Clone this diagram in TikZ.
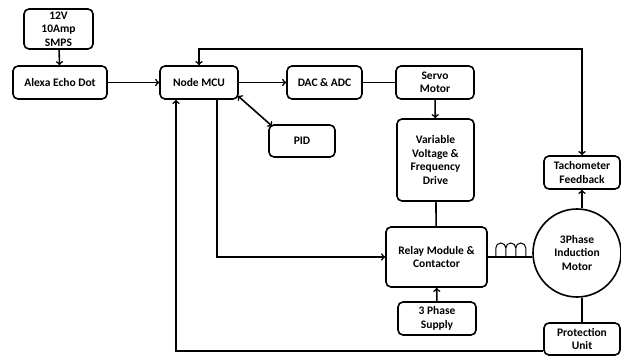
\documentclass[tikz,border=0pt]{standalone}
\usepackage{fontspec}
\setmainfont{Carlito}
\usepackage{tikz}
\usetikzlibrary{arrows,positioning}

\begin{document}
\begin{tikzpicture}[x=1pt, y=-1pt, line width=1.6pt, >=to,
    block/.style={draw, rounded corners=5pt, fill=none, text centered, text=black, align=center,
                  font=\fontsize{11.5}{13.5}\selectfont\bfseries, inner sep=1pt}]
    \useasboundingbox (0,0) rectangle (621,358);
    \node[block, minimum width=69pt, minimum height=40pt] (smps) at (58.5, 29) {12V\\10Amp\\SMPS};
    \node[block, minimum width=94pt, minimum height=33pt] (alexa) at (60, 82.5) {Alexa Echo Dot};
    \node[block, minimum width=78pt, minimum height=33pt] (mcu) at (199, 82.5) {Node MCU};
    \node[block, minimum width=75pt, minimum height=33pt] (dac) at (324.5, 82.5) {DAC \& ADC};
    \node[block, minimum width=78pt, minimum height=33pt] (servo) at (435, 82.5) {Servo\\Motor};
    \node[block, minimum width=66pt, minimum height=32pt] (pid) at (302, 141) {PID};
    \node[block, minimum width=77pt, minimum height=82pt] (vfd) at (435.5, 160) {Variable\\Voltage \&\\Frequency\\Drive};
    \node[block, minimum width=76pt, minimum height=33pt] (tacho) at (582, 172.5) {Tachometer\\Feedback};
    \node[block, minimum width=101pt, minimum height=60pt] (relay) at (436.5, 257) {Relay Module \&\\Contactor};
    \node[block, minimum width=78pt, minimum height=33pt] (supply) at (437, 318.5) {3 Phase\\Supply};
    \node[draw, circle, minimum size=88pt, inner sep=0pt, align=center,
          font=\fontsize{11.5}{13.5}\selectfont\bfseries] (motor) at (577, 253) {3Phase\\Induction\\Motor};
    \node[block, minimum width=76pt, minimum height=32pt] (prot) at (582, 339) {Protection\\Unit};
    \coordinate (top) at (400, 49);

    \draw [->] (smps) -- (alexa);
    \draw [->] (alexa) -- (mcu);
    \draw [->] (mcu) -- (dac);
    \draw (dac) -- (servo);
    \draw [->] (servo) -- (vfd);
    \draw (vfd) -- (relay);
    \draw [->] (supply) -- (relay);
    \draw [<->] ([shift={(-1pt,4pt)}]mcu.south east) -- ([shift={(4pt,-2pt)}]pid.north west);
    \draw [<->] (mcu.north) |- (top) -| (tacho.north);
    \draw [->] (tacho.south |- motor.north) -- (tacho.south);
    \draw (motor.south -| prot.north) -- (prot.north);
    \draw [->] ([yshift=-12pt]prot.west) -| ([xshift=-23pt]mcu.south);
    \draw [->] ([xshift=18pt]mcu.south) |- (relay.west);
    % coil between contactor and motor
    \draw (relay.east) -- (relay.east -| motor.west);
    \draw [line width=1pt] ([xshift=8pt]relay.east) -- ++(0,-9)
        \foreach \i in {1,2,3} {arc[start angle=180, end angle=0, radius=5pt] -- ++(0,9) -- ++(0,-9)};
\end{tikzpicture}
\end{document}
